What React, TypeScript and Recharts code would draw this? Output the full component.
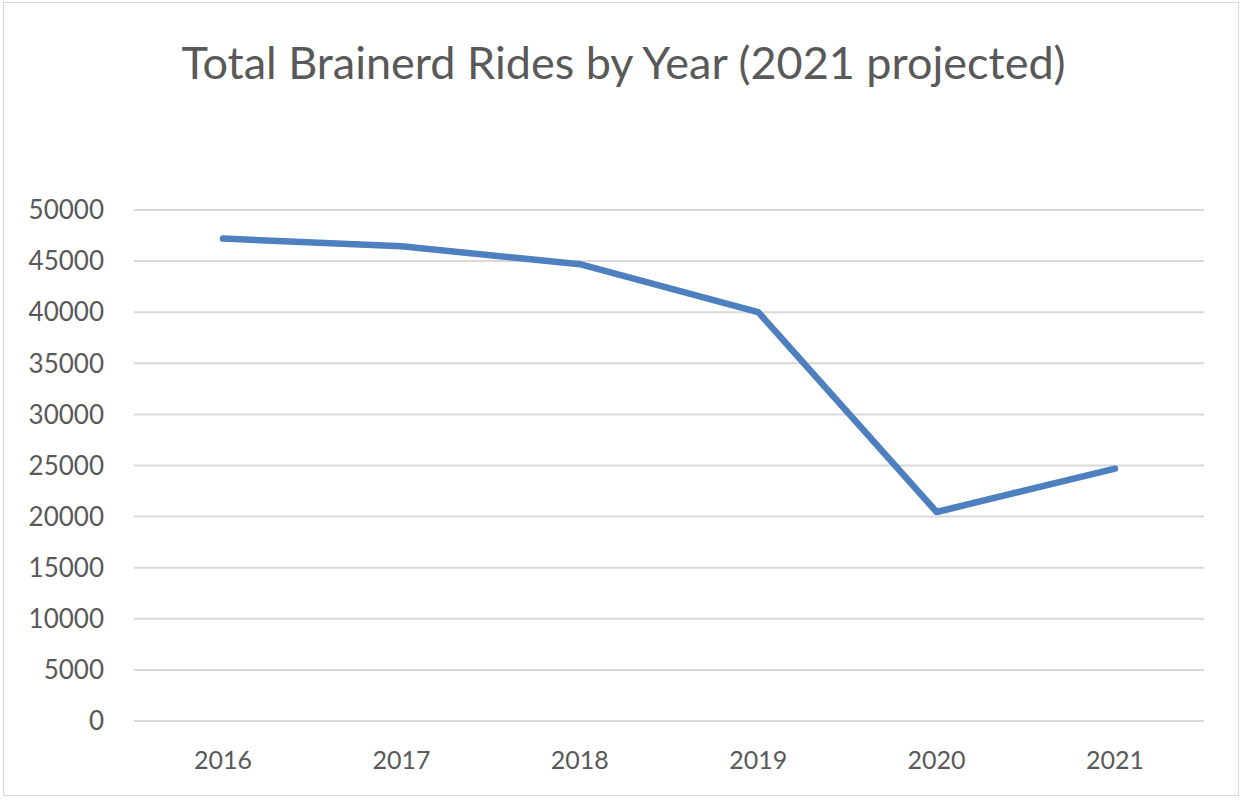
import React from "react";
import { LineChart, Line, XAxis, YAxis, CartesianGrid } from "recharts";

const years = ["2016", "2017", "2018", "2019", "2020", "2021"];
const rides = [47200, 46450, 44700, 40000, 20450, 24700];
const yTicks = [0, 5000, 10000, 15000, 20000, 25000, 30000, 35000, 40000, 45000, 50000];
const title = "Total Brainerd Rides by Year (2021 projected)";

const data = years.map((y, i) => ({ year: y, rides: rides[i] }));

const FONT = "Lato, 'Open Sans', sans-serif";
const TEXT = "#595959";

export default function App() {
  return (
    <div style={{ position: "absolute", left: 0, top: 0, width: 1247, height: 800, background: "#fff", fontFamily: FONT }}>
      <div
        style={{
          position: "absolute",
          left: 3,
          top: 2,
          width: 1236,
          height: 794,
          border: "1.5px solid #d9d9d9",
          boxSizing: "border-box",
        }}
      />
      <div
        style={{
          position: "absolute",
          left: 0,
          top: 34,
          width: 1247,
          textAlign: "center",
          fontSize: 45,
          color: TEXT,
          lineHeight: "56px",
          whiteSpace: "nowrap",
        }}
      >
        {title}
      </div>
      <div style={{ position: "absolute", left: 0, top: 0 }}>
        <LineChart width={1247} height={800} data={data} margin={{ top: 210, right: 43, bottom: 0, left: 0 }}>
          <CartesianGrid vertical={false} stroke="#d9d9d9" strokeWidth={2} />
          <XAxis
            dataKey="year"
            axisLine={false}
            tickLine={false}
            tickSize={0}
            tickMargin={30}
            height={79}
            padding={{ left: 89, right: 89 }}
            tick={{ fill: TEXT, fontSize: 25, fontFamily: FONT }}
            interval={0}
          />
          <YAxis
            domain={[0, 50000]}
            ticks={yTicks}
            axisLine={false}
            tickLine={false}
            tickSize={0}
            tickMargin={30}
            width={134}
            tick={{ fill: TEXT, fontSize: 26, fontFamily: FONT }}
            interval={0}
          />
          <Line
            dataKey="rides"
            stroke="#4E7FBF"
            strokeWidth={6.5}
            dot={false}
            strokeLinecap="round"
            strokeLinejoin="round"
            isAnimationActive={false}
          />
        </LineChart>
      </div>
    </div>
  );
}
